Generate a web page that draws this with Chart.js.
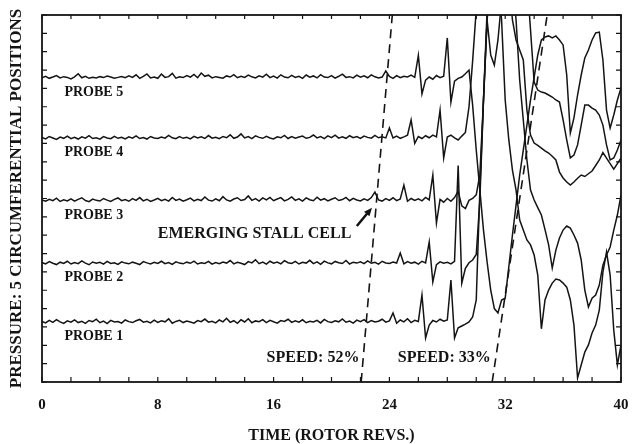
<!DOCTYPE html>
<html>
<head>
<meta charset="utf-8">
<style>
  body { margin: 0; background: #fff; overflow: hidden; }
</style>
<script src="https://cdn.jsdelivr.net/npm/chart.js"></script>
</head>
<body>
<canvas id="stallChart" width="635" height="444"></canvas>
<script>
// sample times, rotor revs
const revs = [
  0, 0.25, 0.5, 0.75, 1, 1.25, 1.5, 1.75,
  2, 2.25, 2.5, 2.75, 3, 3.25, 3.5, 3.75,
  4, 4.25, 4.5, 4.75, 5, 5.25, 5.5, 5.75,
  6, 6.25, 6.5, 6.75, 7, 7.25, 7.5, 7.75,
  8, 8.25, 8.5, 8.75, 9, 9.25, 9.5, 9.75,
  10, 10.25, 10.5, 10.75, 11, 11.25, 11.5, 11.75,
  12, 12.25, 12.5, 12.75, 13, 13.25, 13.5, 13.75,
  14, 14.25, 14.5, 14.75, 15, 15.25, 15.5, 15.75,
  16, 16.25, 16.5, 16.75, 17, 17.25, 17.5, 17.75,
  18, 18.25, 18.5, 18.75, 19, 19.25, 19.5, 19.75,
  20, 20.25, 20.5, 20.75, 21, 21.25, 21.5, 21.75,
  22, 22.25, 22.5, 22.75, 23, 23.25, 23.5, 23.75,
  24, 24.25, 24.5, 24.75, 25, 25.25, 25.5, 25.75,
  26, 26.25, 26.5, 26.75, 27, 27.25, 27.5, 27.75,
  28, 28.25, 28.5, 28.75, 29, 29.25, 29.5, 29.75,
  30, 30.25, 30.5, 30.75, 31, 31.25, 31.5, 31.75,
  32, 32.25, 32.5, 32.75, 33, 33.25, 33.5, 33.75,
  34, 34.25, 34.5, 34.75, 35, 35.25, 35.5, 35.75,
  36, 36.25, 36.5, 36.75, 37, 37.25, 37.5, 37.75,
  38, 38.25, 38.5, 38.75, 39, 39.25, 39.5, 39.75,
  40
];

// pressure traces (offset so each probe sits on its own level)
const probe1 = [
  3.30, 3.22, 3.36, 3.25, 3.40, 3.28, 3.19, 3.33,
  3.26, 3.38, 3.24, 3.31, 3.20, 3.35, 3.29, 3.42,
  3.23, 3.32, 3.18, 3.36, 3.27, 3.30, 3.21, 3.38,
  3.29, 3.24, 3.34, 3.41, 3.26, 3.31, 3.22, 3.37,
  3.25, 3.33, 3.28, 3.44, 3.20, 3.30, 3.36, 3.24,
  3.32, 3.27, 3.21, 3.35, 3.29, 3.43, 3.26, 3.31,
  3.22, 3.38, 3.28, 3.47, 3.25, 3.34, 3.20, 3.39,
  3.27, 3.45, 3.23, 3.33, 3.29, 3.40, 3.24, 3.36,
  3.28, 3.21, 3.35, 3.30, 3.42, 3.25, 3.33, 3.26,
  3.39, 3.23, 3.31, 3.27, 3.36, 3.22, 3.41, 3.29,
  3.25, 3.34, 3.28, 3.44, 3.26, 3.32, 3.21, 3.37,
  3.29, 3.40, 3.24, 3.35, 3.27, 3.31, 3.42, 3.26,
  3.33, 3.76, 3.20, 3.38, 3.28, 3.45, 3.24, 3.36,
  3.30, 4.74, 2.40, 3.10, 3.35, 3.27, 3.42, 3.31,
  3.38, 5.56, 2.40, 2.95, 3.05, 3.15, 3.27, 3.54,
  4.47, 10.46, 15.37, 20.27, 22, 22, 22, 19.73,
  15.37, 13.19, 11.55, 10.46, 8.83, 8.28, 7.74, 7.47,
  6.92, 5.83, 2.90, 4.47, 5.01, 5.39, 5.61, 5.56,
  5.39, 5.17, 4.47, 3.10, 0.22, 0.93, 1.63, 2.02,
  2.67, 3.10, 3.92, 5.99, 7.08, 5.83, 2.83, 0.93,
  2.02
];

const probe2 = [
  6.50, 6.44, 6.56, 6.47, 6.40, 6.53, 6.46, 6.58,
  6.43, 6.51, 6.45, 6.60, 6.48, 6.39, 6.54, 6.47,
  6.52, 6.42, 6.57, 6.46, 6.50, 6.41, 6.55, 6.48,
  6.44, 6.53, 6.47, 6.40, 6.56, 6.49, 6.43, 6.52,
  6.46, 6.58, 6.45, 6.51, 6.41, 6.55, 6.48, 6.44,
  6.53, 6.47, 6.59, 6.43, 6.50, 6.46, 6.57, 6.42,
  6.51, 6.45, 6.54, 6.48, 6.62, 6.44, 6.52, 6.47,
  6.40, 6.56, 6.49, 6.66, 6.45, 6.53, 6.42, 6.58,
  6.47, 6.54, 6.44, 6.61, 6.50, 6.46, 6.57, 6.43,
  6.52, 6.48, 6.63, 6.45, 6.55, 6.41, 6.59, 6.49,
  6.44, 6.57, 6.50, 6.46, 6.62, 6.43, 6.53, 6.48,
  6.55, 6.45, 6.60, 6.47, 6.52, 6.42, 6.58, 6.49,
  6.46, 6.54, 6.48, 7.03, 6.44, 6.56, 6.47, 6.53,
  6.42, 6.58, 6.49, 7.63, 5.45, 6.40, 6.55, 6.47,
  6.52, 6.44, 6.58, 11.80, 5.39, 6.20, 6.50, 6.65,
  6.95, 9.90, 15.37, 19.73, 22, 22, 22, 22,
  22, 22, 22, 19.73, 16.46, 14.28, 12.10, 10.46,
  9.92, 9.50, 9.10, 8.30, 7.47, 6.21, 7.19, 7.85,
  8.28, 8.50, 8.39, 8.01, 7.57, 6.65, 5.01, 4.09,
  4.57, 4.74, 5.28, 6.37, 6.92, 7.36, 8.28, 9.10,
  10.19
];

const probe3 = [
  9.92, 9.85, 9.96, 9.88, 10.02, 9.84, 9.93, 9.87,
  9.98, 9.86, 9.95, 10.04, 9.89, 9.83, 9.97, 9.90,
  9.86, 10.00, 9.91, 9.84, 9.95, 10.03, 9.88, 9.94,
  9.85, 9.99, 9.90, 10.05, 9.87, 9.96, 9.84, 9.92,
  10.01, 9.88, 9.95, 9.86, 10.06, 9.90, 9.97, 9.85,
  9.93, 10.02, 9.87, 9.96, 9.89, 10.08, 9.91, 9.86,
  9.98, 9.88, 10.10, 9.92, 9.85, 9.97, 10.04, 9.89,
  9.94, 10.14, 9.90, 9.99, 9.86, 10.03, 9.92, 10.06,
  9.88, 9.97, 10.05, 9.87, 9.95, 10.09, 9.90, 9.98,
  9.86, 10.03, 9.93, 9.88, 10.07, 9.91, 9.99, 9.87,
  9.96, 10.04, 9.89, 9.94, 10.06, 9.88, 10.01, 9.92,
  9.87, 9.98, 9.90, 10.05, 10.35, 9.92, 9.86, 9.99,
  9.90, 10.04, 9.88, 9.97, 10.73, 9.85, 10.00, 9.89,
  9.98, 9.87, 10.06, 9.92, 11.28, 8.66, 9.95, 9.80,
  10.00, 9.85, 10.05, 10.40, 9.60, 9.45, 9.90, 10.00,
  10.20, 11.30, 15.37, 19.73, 17.82, 17.27, 18.64, 20.80,
  22, 22, 19.73, 18.64, 18.09, 17.55, 14.82, 13.46,
  13.02, 12.90, 12.75, 12.60, 12.48, 12.30, 12.10, 11.44,
  11.12, 10.90, 10.73, 10.90, 11.10, 11.28, 11.20, 11.35,
  11.50, 11.80, 12.10, 12.50, 12.20, 11.90, 11.60, 11.90,
  12.20
];

const probe4 = [
  13.32, 13.25, 13.38, 13.30, 13.22, 13.35, 13.28, 13.40,
  13.26, 13.33, 13.24, 13.36, 13.29, 13.42, 13.27, 13.31,
  13.23, 13.37, 13.30, 13.26, 13.39, 13.28, 13.34, 13.25,
  13.36, 13.29, 13.41, 13.27, 13.32, 13.24, 13.38, 13.30,
  13.27, 13.35, 13.29, 13.44, 13.31, 13.26, 13.37, 13.28,
  13.33, 13.25, 13.39, 13.30, 13.36, 13.27, 13.43, 13.29,
  13.34, 13.26, 13.38, 13.31, 13.47, 13.28, 13.35, 13.52,
  13.30, 13.37, 13.26, 13.41, 13.33, 13.28, 13.39, 13.30,
  13.25, 13.36, 13.31, 13.44, 13.27, 13.38, 13.29, 13.35,
  13.40, 13.28, 13.33, 13.46, 13.30, 13.37, 13.26, 13.41,
  13.32, 13.45, 13.29, 13.36, 13.28, 13.42, 13.31, 13.38,
  13.27, 13.40, 13.33, 13.29, 13.44, 13.31, 13.36, 13.30,
  13.84, 13.30, 13.40, 13.28, 13.36, 13.45, 14.28, 13.00,
  13.38, 13.27, 13.42, 13.31, 13.45, 13.36, 14.82, 12.21,
  13.35, 13.45, 13.30, 13.19, 13.40, 13.60, 15.00, 17.50,
  20.30, 22, 22, 22, 22, 22, 22, 22,
  22, 22, 22, 22, 22, 22, 22, 19.18,
  16.35, 15.91, 15.80, 15.75, 15.64, 15.53, 15.37, 15.26,
  14.28, 13.19, 12.21, 12.37, 12.92, 14.00, 15.09, 15.09,
  14.93, 14.82, 14.55, 14.00, 12.92, 12.10, 12.21, 12.64,
  13.19
];

const probe5 = [
  16.58, 16.66, 16.55, 16.62, 16.70, 16.57, 16.64, 16.60,
  16.52, 16.63, 16.80, 16.58, 16.66, 16.55, 16.61, 16.57,
  16.64, 16.59, 16.67, 16.62, 16.56, 16.60, 16.65, 16.58,
  16.68, 16.60, 16.74, 16.55, 16.66, 16.79, 16.57, 16.62,
  16.55, 16.78, 16.60, 16.64, 16.82, 16.56, 16.63, 16.59,
  16.70, 16.61, 16.76, 16.58, 16.84, 16.66, 16.72, 16.57,
  16.64, 16.60, 16.56, 16.68, 16.62, 16.75, 16.58, 16.66,
  16.60, 16.72, 16.63, 16.57, 16.69, 16.61, 16.77, 16.59,
  16.67, 16.56, 16.74, 16.62, 16.58, 16.71, 16.60, 16.66,
  16.55, 16.73, 16.61, 16.68, 16.57, 16.75, 16.62, 16.59,
  16.70, 16.56, 16.66, 16.78, 16.60, 16.64, 16.57, 16.72,
  16.61, 16.69, 16.58, 16.74, 16.63, 16.57, 16.62, 16.95,
  16.65, 16.55, 16.70, 16.58, 16.66, 16.62, 16.72, 16.60,
  17.80, 15.70, 16.45, 16.62, 16.50, 16.70, 16.58, 16.66,
  18.75, 15.25, 16.40, 16.55, 16.62, 16.80, 17.00, 15.09,
  12.64, 10.46, 8.28, 6.54, 5.01, 4.00, 3.76, 4.47,
  4.57, 6.27, 8.01, 9.64, 11.28, 12.64, 14.00, 15.37,
  16.62, 17.82, 18.64, 18.80, 18.86, 18.75, 18.86, 18.64,
  18.37, 16.73, 13.57, 14.39, 15.64, 16.73, 17.66, 18.09,
  18.64, 19.02, 19.07, 17.55, 14.82, 13.84, 14.55, 15.37,
  16.02
];

const probeNames = ['PROBE 1', 'PROBE 2', 'PROBE 3', 'PROBE 4', 'PROBE 5'];
const probeLevels = [3.27, 6.48, 9.90, 13.30, 16.60];
const xTickLabels = [0, 8, 16, 24, 32, 40];

// dashed speed boundaries [rev, level]
const speedLine52 = [[22.05, 0], [24.2, 20]];
const speedLine33 = [[31.1, 0], [34.9, 20]];

const INK = '#141414';
const SERIF = "'Liberation Serif', 'DejaVu Serif', serif";

const traces = [probe1, probe2, probe3, probe4, probe5];
const datasets = traces.map((p, k) => ({
    label: probeNames[k],
    data: revs.map((t, i) => ({ x: t, y: p[i] })),
    borderColor: INK,
    borderWidth: 1.5,
    pointRadius: 0,
    tension: 0,
    fill: false
}));
[speedLine52, speedLine33].forEach((ln, k) => {
    datasets.push({
        label: 'speed' + k,
        data: ln.map(([t, v]) => ({ x: t, y: v })),
        borderColor: INK,
        borderWidth: 1.6,
        borderDash: [9, 6],
        pointRadius: 0,
        fill: false
    });
});

// text notes, placed in data coordinates
const notes = [
    { text: 'EMERGING STALL CELL', x: 8.0, y: 8.07, size: 16, align: 'left' },
    { text: 'SPEED: 52%', x: 21.93, y: 1.3, size: 16, align: 'right' },
    { text: 'SPEED: 33%', x: 31.0, y: 1.3, size: 16, align: 'right' }
];

const framePlugin = {
    id: 'framePlugin',
    afterDatasetsDraw(chart) {
        const { ctx, chartArea: a, scales: { x, y } } = chart;
        ctx.save();
        ctx.fillStyle = INK;
        ctx.textBaseline = 'middle';

        // probe labels below each trace
        ctx.font = 'bold 14px ' + SERIF;
        ctx.textAlign = 'left';
        probeNames.forEach((name, k) => {
            ctx.fillText(name, x.getPixelForValue(1.55), y.getPixelForValue(probeLevels[k] - 0.8));
        });

        notes.forEach(n => {
            ctx.font = 'bold ' + n.size + 'px ' + SERIF;
            ctx.textAlign = n.align;
            ctx.fillText(n.text, x.getPixelForValue(n.x), y.getPixelForValue(n.y));
        });

        // arrow to the stall cell
        const x1 = x.getPixelForValue(21.75), y1 = y.getPixelForValue(8.5);
        const x2 = x.getPixelForValue(22.8), y2 = y.getPixelForValue(9.5);
        const ang = Math.atan2(y2 - y1, x2 - x1);
        ctx.strokeStyle = INK;
        ctx.lineWidth = 2.5;
        ctx.beginPath();
        ctx.moveTo(x1, y1);
        ctx.lineTo(x2 - 5 * Math.cos(ang), y2 - 5 * Math.sin(ang));
        ctx.stroke();
        ctx.beginPath();
        ctx.moveTo(x2, y2);
        ctx.lineTo(x2 - 9 * Math.cos(ang - 0.4), y2 - 9 * Math.sin(ang - 0.4));
        ctx.lineTo(x2 - 9 * Math.cos(ang + 0.4), y2 - 9 * Math.sin(ang + 0.4));
        ctx.closePath();
        ctx.fill();

        // frame with inward ticks
        ctx.lineWidth = 1.8;
        ctx.strokeRect(a.left, a.top, a.right - a.left, a.bottom - a.top);
        ctx.lineWidth = 1.2;
        ctx.beginPath();
        for (let t = 0; t <= 40; t += 2) {
            const px = x.getPixelForValue(t);
            ctx.moveTo(px, a.bottom); ctx.lineTo(px, a.bottom - 5);
            ctx.moveTo(px, a.top); ctx.lineTo(px, a.top + 4);
        }
        for (let v = 0; v <= 20; v += 1) {
            const py = y.getPixelForValue(v);
            ctx.moveTo(a.left, py); ctx.lineTo(a.left + 5, py);
            ctx.moveTo(a.right, py); ctx.lineTo(a.right - 5, py);
        }
        ctx.stroke();
        ctx.restore();
    }
};

new Chart(document.getElementById('stallChart'), {
    type: 'line',
    data: { datasets },
    options: {
        responsive: false,
        animation: false,
        devicePixelRatio: 1,
        layout: { padding: { top: 15, right: 14, bottom: 0, left: 0 } },
        plugins: { legend: { display: false }, tooltip: { enabled: false } },
        scales: {
            x: {
                type: 'linear',
                min: 0,
                max: 40,
                afterBuildTicks: s => { s.ticks = xTickLabels.map(v => ({ value: v })); },
                ticks: {
                    color: INK,
                    padding: 0,
                    maxRotation: 0,
                    autoSkip: false,
                    font: { family: SERIF, size: 15, weight: 'bold' }
                },
                // invisible tick marks only reserve the gap above the labels
                grid: {
                    display: true,
                    drawOnChartArea: false,
                    drawTicks: true,
                    tickLength: 14,
                    tickColor: 'rgba(0,0,0,0)'
                },
                border: { display: false },
                title: {
                    display: true,
                    text: 'TIME (ROTOR REVS.)',
                    color: INK,
                    font: { family: SERIF, size: 16, weight: 'bold', lineHeight: 1 },
                    padding: { top: 14, bottom: 0 }
                }
            },
            y: {
                type: 'linear',
                min: 0,
                max: 20,
                ticks: { display: false },
                grid: { display: false, drawTicks: false },
                border: { display: false },
                title: {
                    display: true,
                    text: 'PRESSURE: 5 CIRCUMFERENTIAL POSITIONS',
                    color: INK,
                    font: { family: SERIF, size: 17, weight: 'bold', lineHeight: 1 },
                    padding: { top: 8, bottom: 17 }
                }
            }
        }
    },
    plugins: [framePlugin]
});
</script>
</body>
</html>
